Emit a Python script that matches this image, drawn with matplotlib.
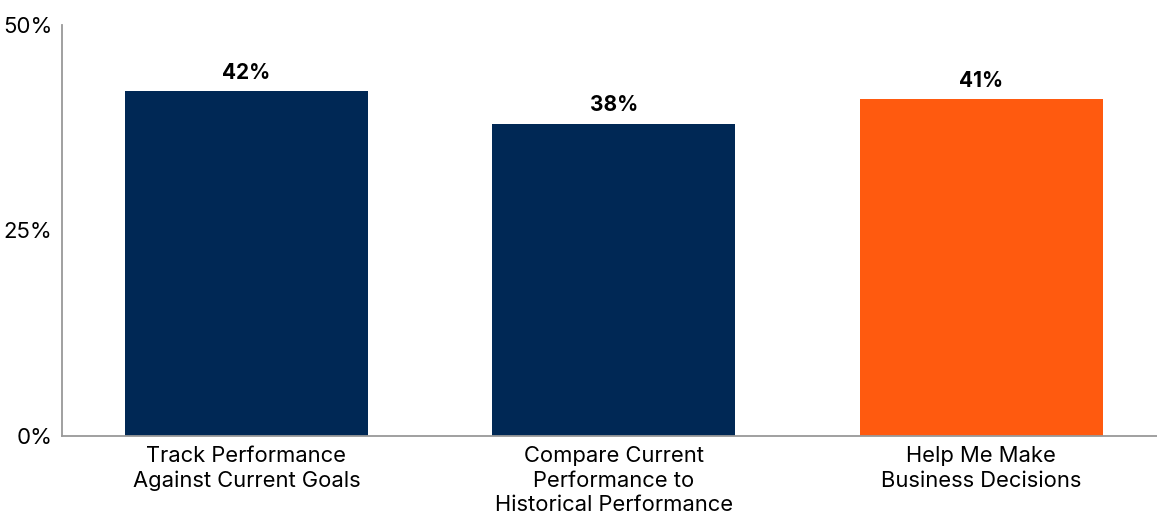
import matplotlib.pyplot as plt

plt.rcParams['font.family'] = ['Inter', 'DejaVu Sans']

categories = ["Track Performance\nAgainst Current Goals",
              "Compare Current\nPerformance to\nHistorical Performance",
              "Help Me Make\nBusiness Decisions"]
values = [42, 38, 41]
colors = ["#002855", "#002855", "#FF5A0F"]

fig = plt.figure(figsize=(11.57, 5.18), dpi=100)
ax = fig.add_axes([62 / 1157, 1 - 436 / 518, 1 - 62 / 1157, (436 - 25) / 518])

x = range(len(values))
bars = ax.bar(x, values, width=0.661, color=colors)
for xi, v in zip(x, values):
    ax.text(xi, v + 1.0, f"{v}%", ha="center", va="bottom",
            fontsize=15, fontweight="bold", color="black")

ax.set_xlim(-0.502, 2.478)
ax.set_ylim(0, 50)
ax.set_yticks([0, 25, 50])
ax.set_yticklabels(["0%", "25%", "50%"])
ax.set_xticks(list(x))
ax.set_xticklabels(categories, fontsize=15.8, linespacing=1.3)
ax.tick_params(axis="y", labelsize=16, length=0, pad=7)
ax.tick_params(axis="x", length=0, pad=7)
for s in ["top", "right"]:
    ax.spines[s].set_visible(False)
for s in ["left", "bottom"]:
    ax.spines[s].set_color("#999999")
    ax.spines[s].set_linewidth(1.3)

fig.savefig("out.png", dpi=100)
